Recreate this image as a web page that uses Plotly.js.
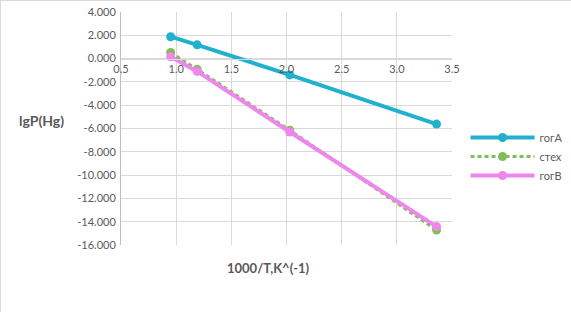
<!DOCTYPE html>
<html>
<head>
<meta charset="utf-8">
<script src="https://cdn.plot.ly/plotly-3.0.1.min.js"></script>
<style>
html,body{margin:0;padding:0;background:#fff;}
#chart{width:570px;height:311px;border-top:1px solid #d9d9d9;border-left:1px solid #d9d9d9;}
</style>
</head>
<body>
<div id="chart"></div>
<script>
const xValues = [0.95, 1.19, 2.03, 3.36];
const seriesNames = ["гогА", "стех", "гогВ"];
const gogA = [1.88, 1.18, -1.40, -5.62];
const stex = [0.52, -0.92, -6.15, -14.72];
const gogB = [0.15, -1.10, -6.30, -14.42];
const yTickVals = [4, 2, 0, -2, -4, -6, -8, -10, -12, -14, -16];
const yTickText = ["4.000", "2.000", "0.000", "-2.000", "-4.000", "-6.000", "-8.000", "-10.000", "-12.000", "-14.000", "-16.000"];
const xTickVals = [0.5, 1.0, 1.5, 2.0, 2.5, 3.0, 3.5];
const xTickText = ["0.5", "1.0", "1.5", "2.0", "2.5", "3.0", "3.5"];
const yTitle = "lgP(Hg)";
const xTitle = "1000/T,K^(-1)";

const traces = [
  {x: xValues, y: gogA, name: seriesNames[0], mode: "lines+markers",
   line: {color: "#22b0cf", width: 4}, marker: {color: "#22b0cf", size: 9}},
  {x: xValues, y: stex, name: seriesNames[1], mode: "lines+markers",
   line: {color: "#82bd5c", width: 3, dash: "4px,3px"}, marker: {color: "#82bd5c", size: 9}},
  {x: xValues, y: gogB, name: seriesNames[2], mode: "lines+markers",
   line: {color: "#ee86ee", width: 4}, marker: {color: "#ee86ee", size: 9}}
];

const layout = {
  width: 570, height: 311,
  margin: {l: 120, r: 119, t: 11, b: 67, pad: 0},
  paper_bgcolor: "#fff", plot_bgcolor: "#fff",
  font: {family: "Lato, 'Open Sans', sans-serif", size: 11, color: "#595959"},
  showlegend: true,
  legend: {xref: "container", yref: "container", x: 0.815, y: 0.5, xanchor: "left", yanchor: "middle",
           font: {size: 11, color: "#595959"}, tracegroupgap: 0, itemwidth: 64},
  xaxis: {range: [0.5, 3.5], tickvals: xTickVals, ticktext: xTickText,
          anchor: "free", position: 0.8, showline: true, linecolor: "#d9d9d9", linewidth: 1,
          showgrid: true, gridcolor: "#d9d9d9", zeroline: false, ticks: "",
          tickfont: {size: 11, color: "#595959"}, fixedrange: true},
  yaxis: {range: [-16, 4], tickvals: yTickVals, ticktext: yTickText,
          showline: true, linecolor: "#bfbfbf", linewidth: 1,
          showgrid: true, gridcolor: "#d9d9d9", zeroline: false, ticks: "",
          ticklabelstandoff: 2,
          tickfont: {size: 11, color: "#595959"}, fixedrange: true},
  annotations: [
    {text: "<b>" + yTitle + "</b>", xref: "paper", yref: "paper", x: -0.239, y: 0.534,
     xanchor: "center", yanchor: "middle", showarrow: false, font: {size: 14, color: "#595959"}},
    {text: "<b>" + xTitle + "</b>", xref: "paper", yref: "paper", x: 0.445, y: -0.097,
     xanchor: "center", yanchor: "middle", showarrow: false, font: {size: 13, color: "#595959"}}
  ]
};

Plotly.newPlot("chart", traces, layout, {displayModeBar: false, staticPlot: true});
</script>
</body>
</html>
